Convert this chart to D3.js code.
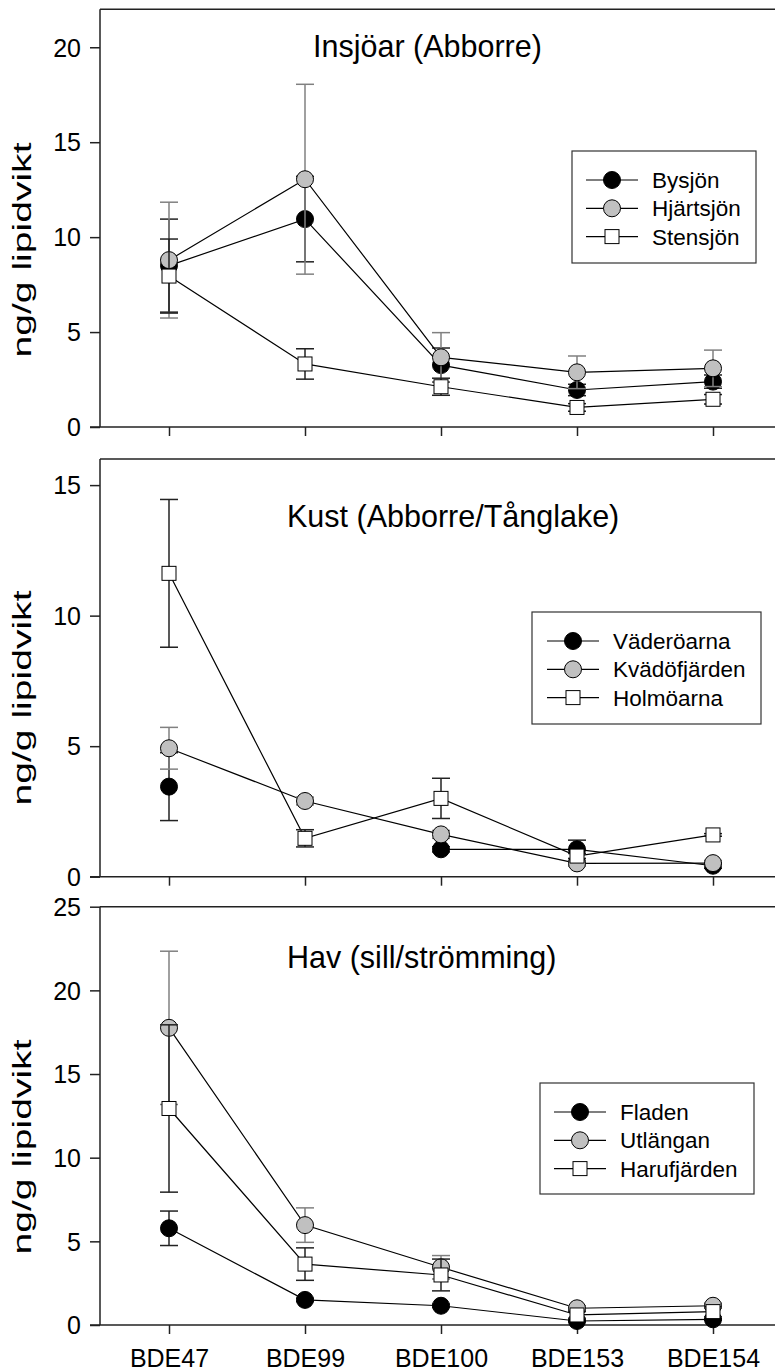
<!DOCTYPE html>
<html>
<head>
<meta charset="utf-8">
<script src="https://cdn.jsdelivr.net/npm/d3@7"></script>
<style>
  body { margin: 0; background: #fff; }
  svg text { font-family: "Liberation Sans", Arial, sans-serif; fill: #000; }
</style>
</head>
<body>
<div id="plot"></div>
<script>
// categories on x axis
var categories = ["BDE47", "BDE99", "BDE100", "BDE153", "BDE154"];

// Insjöar (Abborre)
var insjoNames = ["Bysjön", "Hjärtsjön", "Stensjön"];
var bysjon = [8.5, 10.95, 3.26, 1.95, 2.39];
var bysjonErr = [2.45, 2.25, 0.9, 0.3, 0.35];
var hjartsjon = [8.79, 13.05, 3.67, 2.88, 3.09];
var hjartsjonErr = [3.05, 5.0, 1.3, 0.86, 0.96];
var stensjon = [7.95, 3.32, 2.12, 1.03, 1.46];
var stensjonErr = [1.95, 0.8, 0.45, 0.2, 0.25];

// Kust (Abborre/Tånglake)
var kustNames = ["Väderöarna", "Kvädöfjärden", "Holmöarna"];
var vaderoarna = [3.45, null, 1.05, 1.05, 0.42];
var vaderoarnaErr = [1.3, null, 0.1, 0.35, 0.1];
var kvadofjarden = [4.92, 2.9, 1.62, 0.51, 0.52];
var kvadofjardenErr = [0.8, 0.15, 0.15, 0.1, 0.1];
var holmoarna = [11.62, 1.47, 3.0, 0.79, 1.6];
var holmoarnaErr = [2.83, 0.33, 0.77, 0.1, 0.05];

// Hav (sill/strömming)
var havNames = ["Fladen", "Utlängan", "Harufjärden"];
var fladen = [5.78, 1.5, 1.15, 0.24, 0.34];
var fladenErr = [1.03, 0.1, 0.1, 0.05, 0.05];
var utlangan = [17.76, 5.97, 3.45, 1.0, 1.15];
var utlanganErr = [4.58, 1.03, 0.7, 0.15, 0.15];
var harufjarden = [12.94, 3.64, 2.99, 0.6, 0.8];
var harufjardenErr = [5.0, 0.97, 0.95, 0.2, 0.3];

var yTicks1 = [0, 5, 10, 15, 20];
var yTicks2 = [0, 5, 10, 15];
var yTicks3 = [0, 5, 10, 15, 20, 25];

var width = 775, height = 1372;
var left = 100, right = 795;

var svg = d3.select("#plot").append("svg")
    .attr("width", width)
    .attr("height", height);

var x = d3.scalePoint()
    .domain(categories)
    .range([169, 713]);

// marker styles per series slot
var styles = [
  {shape: "circle", fill: "#000", err: "#222"},
  {shape: "circle", fill: "#c0c0c0", err: "#808080"},
  {shape: "square", fill: "#fff", err: "#222"}
];

function panel(cfg) {
  var g = svg.append("g");
  var y = d3.scaleLinear().domain([0, cfg.max]).range([cfg.bottom, cfg.top]);

  // frame: top line + left/bottom axes
  g.append("line")
    .attr("x1", left).attr("x2", right)
    .attr("y1", cfg.top).attr("y2", cfg.top)
    .attr("stroke", "#222").attr("stroke-width", 1.5);

  var yAxis = g.append("g")
    .attr("transform", "translate(" + left + ",0)")
    .call(d3.axisLeft(y).tickValues(cfg.ticks).tickSize(10).tickPadding(9).tickSizeOuter(0));
  yAxis.select(".domain").attr("stroke", "#222").attr("stroke-width", 1.5)
    .attr("d", "M0," + cfg.top + "V" + cfg.bottom);
  yAxis.selectAll(".tick line").attr("stroke", "#222").attr("stroke-width", 1.5);
  yAxis.selectAll("text").style("font-size", "25px").attr("dy", "0.35em");

  var xAxis = g.append("g")
    .attr("transform", "translate(0," + cfg.bottom + ")")
    .call(d3.axisBottom(x).tickSize(9).tickSizeOuter(0).tickFormat(cfg.labels ? null : ""));
  xAxis.select(".domain").attr("stroke", "#222").attr("stroke-width", 1.5)
    .attr("d", "M" + (left - 10) + ",0H" + right);
  xAxis.selectAll(".tick line").attr("stroke", "#222").attr("stroke-width", 1.5);
  xAxis.selectAll("text").style("font-size", "25px").attr("y", 24).attr("dy", "0.71em");

  // y label (stretched along its length like the original)
  g.append("text")
    .attr("transform", "translate(31," + cfg.labelY + ") rotate(-90)")
    .attr("text-anchor", "middle")
    .attr("textLength", 215)
    .attr("lengthAdjust", "spacingAndGlyphs")
    .style("font-size", "25px")
    .text("ng/g lipidvikt");

  // title
  g.append("text")
    .attr("x", cfg.titleX).attr("y", cfg.titleY)
    .style("font-size", "30.5px")
    .text(cfg.title);

  // series
  cfg.series.forEach(function (s, i) {
    var st = styles[i];
    var pts = categories.map(function (c, k) {
      return {c: c, v: s.values[k], e: s.err[k]};
    });
    var line = d3.line()
      .defined(function (d) { return d.v != null; })
      .x(function (d) { return x(d.c); })
      .y(function (d) { return y(d.v); });
    g.append("path").datum(pts)
      .attr("d", line).attr("fill", "none")
      .attr("stroke", "#000").attr("stroke-width", 1.2);

    var valid = pts.filter(function (d) { return d.v != null; });
    var eb = g.append("g").attr("stroke", st.err).attr("stroke-width", 1.5);
    valid.forEach(function (d) {
      var cx = x(d.c);
      eb.append("line").attr("x1", cx).attr("x2", cx)
        .attr("y1", y(d.v - d.e)).attr("y2", y(d.v + d.e));
      [d.v - d.e, d.v + d.e].forEach(function (v) {
        eb.append("line").attr("x1", cx - 9).attr("x2", cx + 9)
          .attr("y1", y(v)).attr("y2", y(v));
      });
    });

    valid.forEach(function (d) {
      drawMarker(g, st, x(d.c), y(d.v));
    });
  });

  // legend
  var lg = g.append("g");
  lg.append("rect")
    .attr("x", cfg.legend.x).attr("y", cfg.legend.y)
    .attr("width", cfg.legend.w).attr("height", cfg.legend.h)
    .attr("fill", "#fff").attr("stroke", "#333").attr("stroke-width", 1.2);
  cfg.series.forEach(function (s, i) {
    var ry = cfg.legend.y + 29 + i * 28.3;
    var mx = cfg.legend.x + cfg.legend.mx;
    lg.append("line")
      .attr("x1", mx - 26).attr("x2", mx + 26)
      .attr("y1", ry).attr("y2", ry)
      .attr("stroke", "#000").attr("stroke-width", 1.2);
    drawMarker(lg, styles[i], mx, ry);
    lg.append("text")
      .attr("x", mx + 40).attr("y", ry).attr("dy", "0.36em")
      .style("font-size", "22.5px")
      .text(s.name);
  });
}

function drawMarker(g, st, cx, cy) {
  if (st.shape == "circle") {
    g.append("circle").attr("cx", cx).attr("cy", cy).attr("r", 8.5)
      .attr("fill", st.fill).attr("stroke", "#000").attr("stroke-width", 1);
  } else {
    g.append("rect").attr("x", cx - 7).attr("y", cy - 7)
      .attr("width", 14).attr("height", 14)
      .attr("fill", st.fill).attr("stroke", "#000").attr("stroke-width", 1);
  }
}

panel({
  top: 9.3, bottom: 427, max: 22, ticks: yTicks1, labels: false, labelY: 250,
  title: "Insjöar (Abborre)", titleX: 313, titleY: 57,
  legend: {x: 572, y: 151, w: 184, h: 112, mx: 40},
  series: [
    {name: insjoNames[0], values: bysjon, err: bysjonErr},
    {name: insjoNames[1], values: hjartsjon, err: hjartsjonErr},
    {name: insjoNames[2], values: stensjon, err: stensjonErr}
  ]
});

panel({
  top: 459, bottom: 876.7, max: 16, ticks: yTicks2, labels: false, labelY: 698,
  title: "Kust (Abborre/Tånglake)", titleX: 287, titleY: 527,
  legend: {x: 532, y: 612, w: 229, h: 112, mx: 41},
  series: [
    {name: kustNames[0], values: vaderoarna, err: vaderoarnaErr},
    {name: kustNames[1], values: kvadofjarden, err: kvadofjardenErr},
    {name: kustNames[2], values: holmoarna, err: holmoarnaErr}
  ]
});

panel({
  top: 906.7, bottom: 1325, max: 25, ticks: yTicks3, labels: true, labelY: 1147,
  title: "Hav (sill/strömming)", titleX: 287, titleY: 968,
  legend: {x: 540, y: 1083, w: 214, h: 111, mx: 40},
  series: [
    {name: havNames[0], values: fladen, err: fladenErr},
    {name: havNames[1], values: utlangan, err: utlanganErr},
    {name: havNames[2], values: harufjarden, err: harufjardenErr}
  ]
});
</script>
</body>
</html>
